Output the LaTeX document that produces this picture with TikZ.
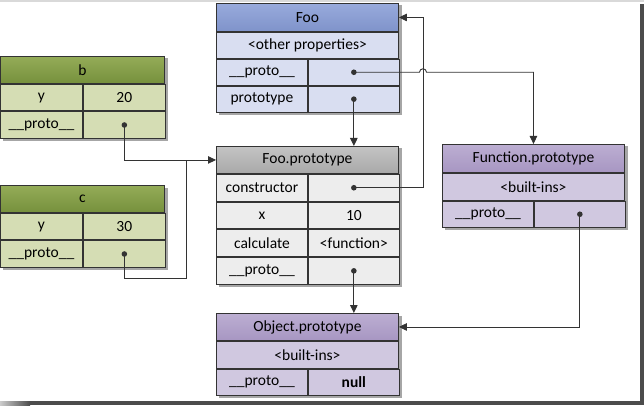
\documentclass[tikz,border=0pt]{standalone}
\usepackage{fontspec}
\setmainfont{Carlito}
\usetikzlibrary{positioning,arrows.meta,backgrounds}
\definecolor{edge}{HTML}{333333}
\definecolor{greenT}{HTML}{94AC58}
\definecolor{greenB}{HTML}{76903C}
\definecolor{greenR}{HTML}{D5DDB4}
\definecolor{blueT}{HTML}{98AADC}
\definecolor{blueB}{HTML}{7F93CA}
\definecolor{blueR}{HTML}{D9DEF1}
\definecolor{greyT}{HTML}{C4C4C4}
\definecolor{greyB}{HTML}{A8A8A8}
\definecolor{greyR}{HTML}{EDEDED}
\definecolor{purpT}{HTML}{BCAED2}
\definecolor{purpB}{HTML}{A796C2}
\definecolor{purpR}{HTML}{D0C8E0}

\begin{document}
\begin{tikzpicture}[
    x=1pt, y=1pt,
    cell/.style={draw=edge, line width=0.9pt, inner sep=0pt, minimum height=26.5pt,
                 font=\fontsize{15.5}{17}\selectfont, text=black},
    hd/.style={cell, minimum height=27pt},
    full/.style={minimum width=182pt},
    half/.style={minimum width=91pt},
    bfull/.style={minimum width=164pt},
    bhalf/.style={minimum width=82pt},
    greenhd/.style={hd, top color=greenT, bottom color=greenB},
    greencell/.style={cell, fill=greenR},
    bluehd/.style={hd, top color=blueT, bottom color=blueB},
    bluecell/.style={cell, fill=blueR, minimum height=26pt},
    greyhd/.style={hd, top color=greyT, bottom color=greyB},
    greycell/.style={cell, fill=greyR, minimum height=26.8pt},
    purphd/.style={hd, top color=purpT, bottom color=purpB},
    purpcell/.style={cell, fill=purpR},
    shade/.style={fill=black!35},
    wire/.style={draw=edge, line width=0.9pt},
    link/.style={wire, -{Triangle[length=8pt,width=7.5pt]}}
]
  \useasboundingbox (0,0) rectangle (644,-406);

  % window frame
  \fill[gray!30] (0,0) rectangle (644,-2.5);
  \fill[black!70] (640,-4) rectangle (644,-404);
  \shade[left color=gray!40, right color=black!70] (0,-401) rectangle (30,-405);
  \fill[black!70] (30,-401) rectangle (644,-405);

  % b
  \node[greenhd, bfull, anchor=north west] (bHead) at (0,-56) {b};
  \node[greencell, bhalf, anchor=north west] (bY) at (bHead.south west) {y};
  \node[greencell, bhalf, right=0pt of bY] (bYv) {20};
  \node[greencell, bhalf, anchor=north west] (bProto) at (bY.south west) {\_\_proto\_\_};
  \node[greencell, bhalf, right=0pt of bProto] (bProtoV) {};

  % c
  \node[greenhd, bfull, anchor=north west] (cHead) at (0,-185) {c};
  \node[greencell, bhalf, anchor=north west] (cY) at (cHead.south west) {y};
  \node[greencell, bhalf, right=0pt of cY] (cYv) {30};
  \node[greencell, bhalf, anchor=north west] (cProto) at (cY.south west) {\_\_proto\_\_};
  \node[greencell, bhalf, right=0pt of cProto] (cProtoV) {};

  % Foo
  \node[bluehd, full, minimum height=28pt, anchor=north west] (FooHead) at (216,-3) {Foo};
  \node[bluecell, full, anchor=north west] (FooOther) at (FooHead.south west) {\textless other properties\textgreater};
  \node[bluecell, half, anchor=north west] (FooProto) at (FooOther.south west) {\_\_proto\_\_};
  \node[bluecell, half, right=0pt of FooProto] (FooProtoV) {};
  \node[bluecell, half, anchor=north west] (FooPt) at (FooProto.south west) {prototype};
  \node[bluecell, half, right=0pt of FooPt] (FooPtV) {};

  % Foo.prototype
  \node[greyhd, full, anchor=north west] (FPHead) at (216,-146) {Foo.prototype};
  \node[greycell, half, anchor=north west] (FPCtor) at (FPHead.south west) {constructor};
  \node[greycell, half, right=0pt of FPCtor] (FPCtorV) {};
  \node[greycell, half, anchor=north west] (FPx) at (FPCtor.south west) {x};
  \node[greycell, half, right=0pt of FPx] (FPxV) {10};
  \node[greycell, half, anchor=north west] (FPCalc) at (FPx.south west) {calculate};
  \node[greycell, half, right=0pt of FPCalc] (FPCalcV) {\textless function\textgreater};
  \node[greycell, half, anchor=north west] (FPProto) at (FPCalc.south west) {\_\_proto\_\_};
  \node[greycell, half, right=0pt of FPProto] (FPProtoV) {};

  % Function.prototype
  \node[purphd, full, minimum height=28pt, anchor=north west] (FnHead) at (442,-144) {Function.prototype};
  \node[purpcell, full, minimum height=27pt, anchor=north west] (FnBuilt) at (FnHead.south west) {\textless built-ins\textgreater};
  \node[purpcell, half, minimum height=26pt, anchor=north west] (FnProto) at (FnBuilt.south west) {\_\_proto\_\_};
  \node[purpcell, half, minimum height=26pt, right=0pt of FnProto] (FnProtoV) {};

  % Object.prototype
  \node[purphd, full, anchor=north west] (ObjHead) at (216,-313) {Object.prototype};
  \node[purpcell, full, minimum height=27pt, anchor=north west] (ObjBuilt) at (ObjHead.south west) {\textless built-ins\textgreater};
  \node[purpcell, half, minimum height=26pt, anchor=north west] (ObjProto) at (ObjBuilt.south west) {\_\_proto\_\_};
  \node[purpcell, half, minimum height=26pt, right=0pt of ObjProto] (ObjProtoV) {\textbf{null}};

  % shadows
  \begin{scope}[on background layer]
    \fill[shade] ([shift={(2.5,-2.5)}]bHead.north west) rectangle ([shift={(2.5,-2.5)}]bProtoV.south east);
    \fill[shade] ([shift={(2.5,-2.5)}]cHead.north west) rectangle ([shift={(2.5,-2.5)}]cProtoV.south east);
    \fill[shade] ([shift={(2.5,-2.5)}]FooHead.north west) rectangle ([shift={(2.5,-2.5)}]FooPtV.south east);
    \fill[shade] ([shift={(2.5,-2.5)}]FPHead.north west) rectangle ([shift={(2.5,-2.5)}]FPProtoV.south east);
    \fill[shade] ([shift={(2.5,-2.5)}]FnHead.north west) rectangle ([shift={(2.5,-2.5)}]FnProtoV.south east);
    \fill[shade] ([shift={(2.5,-2.5)}]ObjHead.north west) rectangle ([shift={(2.5,-2.5)}]ObjProtoV.south east);
  \end{scope}

  % pointers
  \coordinate (cMerge) at (186,-278);
  \coordinate (ctorX) at (423,0);
  \draw[link] (bProtoV.center) |- (FPHead.west);
  \draw[wire] (cProtoV.center) |- (cMerge) -- (cMerge |- FPHead.west);
  \draw[link] (FooPtV.center) -- (FooPtV.center |- FPHead.north);
  \draw[link] (FPProtoV.center) -- (FPProtoV.center |- ObjHead.north);
  \draw[link] (FPCtorV.center) -- (FPCtorV.center -| ctorX) |- (FooHead.east);
  \draw[link] (FooProtoV.center) -- ([xshift=-3.5pt]FooProtoV.center -| ctorX)
      arc[start angle=180, end angle=0, radius=3.5pt] -| (FnHead.north);
  \draw[link] (FnProtoV.center) |- (ObjHead.east);

  \foreach \cellname in {bProtoV, cProtoV, FooProtoV, FooPtV, FPCtorV, FPProtoV, FnProtoV}
    \fill[edge] (\cellname) circle (2.8);
\end{tikzpicture}
\end{document}
